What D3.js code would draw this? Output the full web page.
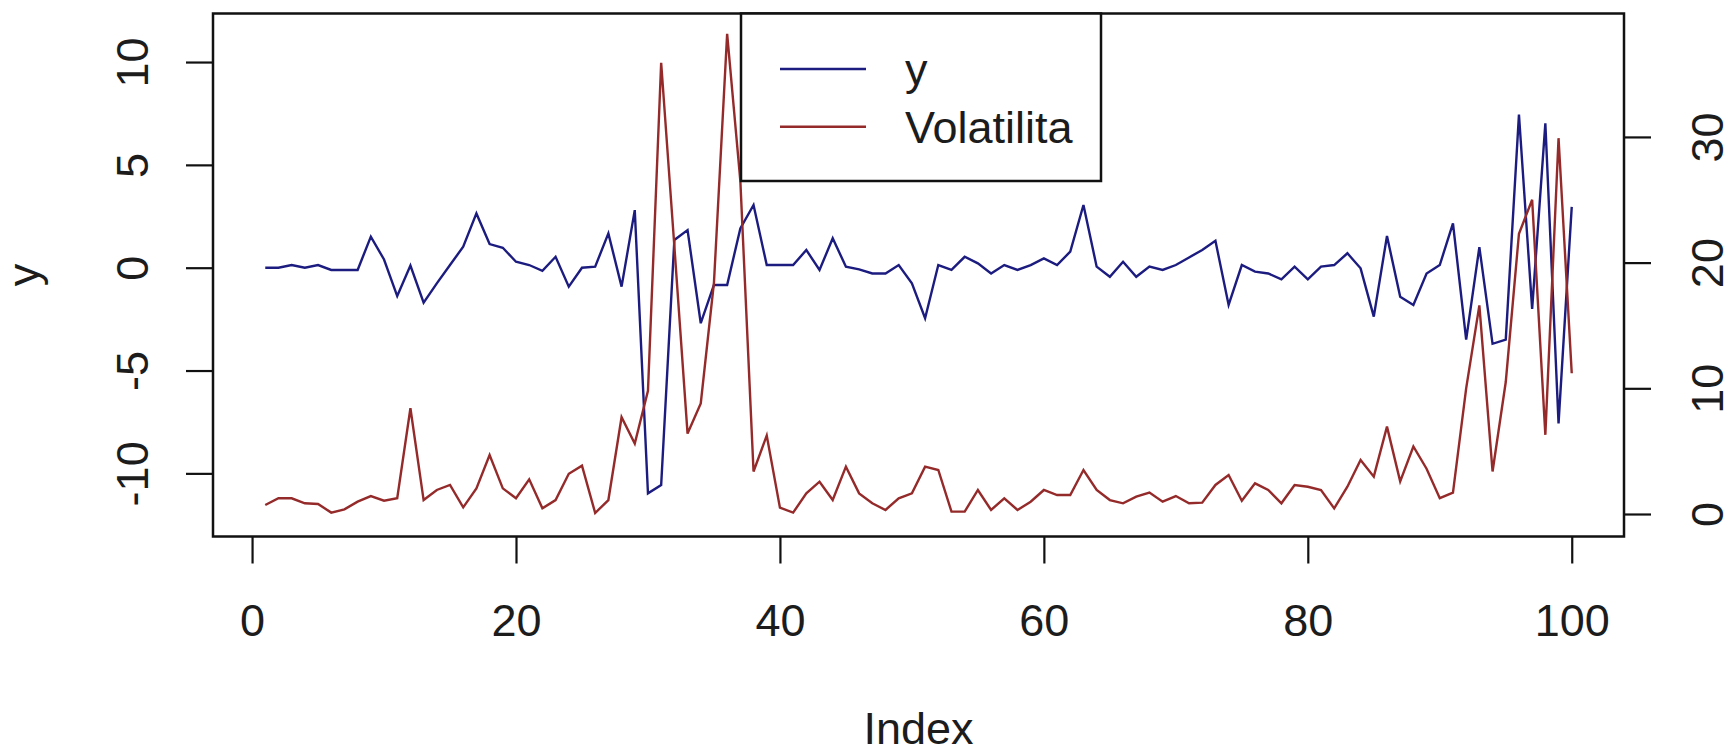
<!DOCTYPE html>
<html>
<head>
<meta charset="utf-8">
<script src="https://cdn.jsdelivr.net/npm/d3@7"></script>
<style>
  html, body { margin: 0; padding: 0; background: #fff; }
  svg { display: block; }
  text { font-family: "Liberation Sans", Arial, sans-serif; fill: #1c1c1c; }
</style>
</head>
<body>
<svg id="chart" width="1732" height="753"></svg>
<script>
// Series values, one per index 1..100
const ySeries = [
  0, 0, 0.13, 0, 0.13, -0.11, -0.11, -0.11, 1.51, 0.4,
  -1.38, 0.1, -1.7, -0.76, 0.13, 1.02, 2.64, 1.15, 0.97, 0.29,
  0.13, -0.15, 0.53, -0.92, 0, 0.05, 1.67, -0.92, 2.8, -10.97,
  -10.57, 1.35, 1.83, -2.7, -0.84, -0.84, 1.91, 3.05, 0.13, 0.13,
  0.13, 0.86, -0.11, 1.43, 0.05, -0.08, -0.28, -0.28, 0.13, -0.76,
  -2.46, 0.13, -0.11, 0.53, 0.21, -0.28, 0.13, -0.11, 0.13, 0.45,
  0.13, 0.78, 3.05, 0.05, -0.44, 0.29, -0.44, 0.05, -0.11, 0.13,
  0.5, 0.86, 1.31, -1.81, 0.13, -0.19, -0.28, -0.57, 0.05, -0.57,
  0.05, 0.13, 0.7, -0.03, -2.38, 1.54, -1.41, -1.81, -0.28, 0.13,
  2.16, -3.5, 1.0, -3.7, -3.5, 7.44, -2.0, 7.02, -7.57, 2.96
];
const volSeries = [
  0.72, 1.25, 1.25, 0.85, 0.8, 0.11, 0.37, 0.98, 1.43, 1.06,
  1.25, 8.41, 1.11, 1.91, 2.31, 0.53, 2.04, 4.69, 2.04, 1.25,
  2.76, 0.45, 1.11, 3.2, 3.85, 0.08, 1.11, 7.7, 5.6, 9.8,
  35.9, 21.3, 6.4, 8.8, 18.4, 38.2, 26.5, 3.38, 6.25, 0.5,
  0.11, 1.64, 2.57, 1.11, 3.77, 1.64, 0.85, 0.32, 1.25, 1.64,
  3.77, 3.5, 0.19, 0.19, 1.91, 0.32, 1.25, 0.32, 0.98, 1.91,
  1.51, 1.51, 3.5, 1.91, 1.11, 0.85, 1.38, 1.7, 0.98, 1.43,
  0.85, 0.9, 2.31, 3.1, 1.05, 2.44, 1.91, 0.85, 2.31, 2.17,
  1.91, 0.45, 2.17, 4.3, 2.97, 6.95, 2.6, 5.37, 3.6, 1.26,
  1.7, 10, 16.6, 3.38, 10.5, 22.3, 25, 6.3, 29.9, 11.2
];

const xTicks = [0, 20, 40, 60, 80, 100];
const yLeftTicks = [-10, -5, 0, 5, 10];
const yRightTicks = [0, 10, 20, 30];
const legendLabels = ["y", "Volatilita"];
const seriesColors = ["#1c1c80", "#952a2a"];
const xTitle = "Index";
const yTitle = "y";
const yLeftLimits = [-13.07, 12.36];
const yRightLimits = [-1.79, 39.82];

const plot = { left: 213, right: 1624, top: 13.5, bottom: 536.5 };
const fontSize = 45;
const tickLen = 27;

const svg = d3.select("#chart");
svg.append("rect").attr("width", 1732).attr("height", 753).attr("fill", "#fff");

const n = ySeries.length;
const pad = 0.04 * (n - 1);
const x = d3.scaleLinear().domain([1 - pad, n + pad]).range([plot.left, plot.right]);
const yL = d3.scaleLinear().domain(yLeftLimits).range([plot.bottom, plot.top]);
const yR = d3.scaleLinear().domain(yRightLimits).range([plot.bottom, plot.top]);

svg.append("clipPath").attr("id", "plotClip")
  .append("rect")
  .attr("x", plot.left).attr("y", plot.top)
  .attr("width", plot.right - plot.left).attr("height", plot.bottom - plot.top);

// the two series: y on the left scale, volatility on the right scale
const lineY = d3.line().x((d, i) => x(i + 1)).y(d => yL(d));
const lineVol = d3.line().x((d, i) => x(i + 1)).y(d => yR(d));

const lines = svg.append("g").attr("clip-path", "url(#plotClip)");
lines.append("path").datum(ySeries)
  .attr("d", lineY).attr("fill", "none")
  .attr("stroke", seriesColors[0]).attr("stroke-width", 2.4)
  .attr("stroke-linejoin", "miter");
lines.append("path").datum(volSeries)
  .attr("d", lineVol).attr("fill", "none")
  .attr("stroke", seriesColors[1]).attr("stroke-width", 2.4)
  .attr("stroke-linejoin", "miter");

const fmt = d => String(d);

function styleAxis(g) {
  g.select(".domain").remove();
  g.selectAll(".tick line").attr("stroke", "#111").attr("stroke-width", 2.2);
  g.selectAll(".tick text")
    .attr("font-size", fontSize)
    .attr("fill", "#1c1c1c");
}

// bottom axis
const gx = svg.append("g").attr("transform", `translate(0,${plot.bottom})`)
  .call(d3.axisBottom(x).tickValues(xTicks).tickFormat(fmt).tickSize(tickLen));
styleAxis(gx);
gx.selectAll(".tick text").attr("y", 99).attr("dy", null);

// left axis, labels parallel to the axis
const gl = svg.append("g").attr("transform", `translate(${plot.left},0)`)
  .call(d3.axisLeft(yL).tickValues(yLeftTicks).tickFormat(fmt).tickSize(tickLen));
styleAxis(gl);
gl.selectAll(".tick text")
  .attr("x", null).attr("dy", null)
  .attr("text-anchor", "middle")
  .attr("transform", "translate(-65,0) rotate(-90)");

// right axis for the volatility scale
const gr = svg.append("g").attr("transform", `translate(${plot.right},0)`)
  .call(d3.axisRight(yR).tickValues(yRightTicks).tickFormat(fmt).tickSize(tickLen));
styleAxis(gr);
gr.selectAll(".tick text")
  .attr("x", null).attr("dy", null)
  .attr("text-anchor", "middle")
  .attr("transform", "translate(99,0) rotate(-90)");

// frame
svg.append("rect")
  .attr("x", plot.left).attr("y", plot.top)
  .attr("width", plot.right - plot.left).attr("height", plot.bottom - plot.top)
  .attr("fill", "none").attr("stroke", "#111").attr("stroke-width", 2.5);

// titles
svg.append("text")
  .attr("x", (plot.left + plot.right) / 2).attr("y", 744)
  .attr("text-anchor", "middle").attr("font-size", fontSize)
  .text(xTitle);
svg.append("text")
  .attr("transform", `translate(39,${(plot.top + plot.bottom) / 2}) rotate(-90)`)
  .attr("text-anchor", "middle").attr("font-size", fontSize)
  .text(yTitle);

// legend
const legend = svg.append("g");
legend.append("rect")
  .attr("x", 741).attr("y", plot.top).attr("width", 360).attr("height", 181 - plot.top)
  .attr("fill", "#fff").attr("stroke", "#111").attr("stroke-width", 2.5);
const rowY = [69, 126.7];
legendLabels.forEach((lab, i) => {
  legend.append("line")
    .attr("x1", 780).attr("x2", 866).attr("y1", rowY[i]).attr("y2", rowY[i])
    .attr("stroke", seriesColors[i]).attr("stroke-width", 2.4);
  legend.append("text")
    .attr("x", 905).attr("y", rowY[i] + 16)
    .attr("font-size", fontSize)
    .text(lab);
});
</script>
</body>
</html>
